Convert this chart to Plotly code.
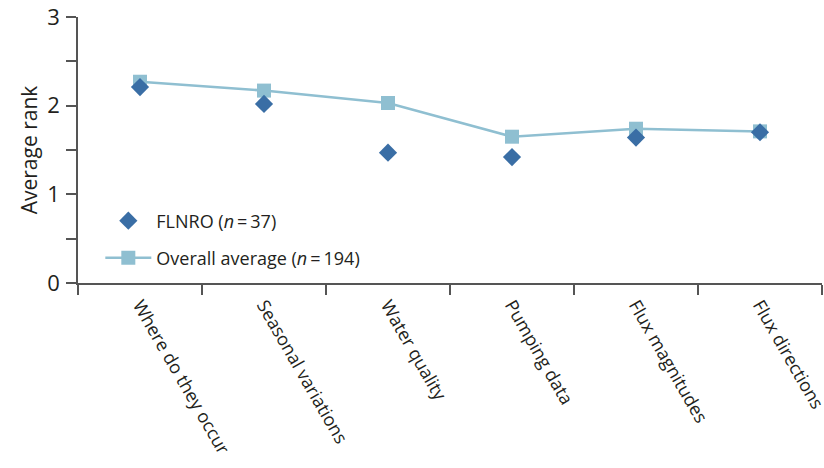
import plotly.graph_objects as go

categories = ["Where do they occur", "Seasonal variations", "Water quality",
              "Pumping data", "Flux magnitudes", "Flux directions"]
flnro = [2.21, 2.02, 1.47, 1.42, 1.64, 1.70]
overall = [2.27, 2.17, 2.03, 1.65, 1.74, 1.71]
y_ticks = [0, 1, 2, 3]

txt = "#231f20"
fig = go.Figure()
fig.add_trace(go.Scatter(
    x=categories, y=overall, mode="lines+markers",
    name="Overall average (<i>n</i>\u2009=\u2009194)",
    line=dict(color="#8fbfd1", width=2.5),
    marker=dict(symbol="square", size=14, color="#8fbfd1"),
    legend="legend2",
))
fig.add_trace(go.Scatter(
    x=categories, y=flnro, mode="markers",
    name="FLNRO (<i>n</i>\u2009=\u200937)",
    marker=dict(symbol="diamond", size=14, color="#3a6ea5"),
    legend="legend",
))

leg_common = dict(xanchor="left", yanchor="middle", bgcolor="rgba(0,0,0,0)",
                  font=dict(size=18, color=txt), itemwidth=46)
fig.update_layout(
    width=824, height=468,
    margin=dict(l=78, r=2, t=17, b=185, autoexpand=False),
    plot_bgcolor="white", paper_bgcolor="white",
    font=dict(family="Open Sans", size=18, color=txt),
    showlegend=True,
    legend=dict(x=0.03, y=(283 - 221) / 266, **leg_common),
    legend2=dict(x=0.03, y=(283 - 258) / 266, **leg_common),
)
fig.update_xaxes(
    type="category", range=[-0.5, 5.5], automargin=False,
    showline=True, linecolor="#555", linewidth=1.5,
    ticks="outside", ticklen=10, tickcolor="#555", tickwidth=1.5,
    tickson="boundaries", tickangle=60, ticklabelstandoff=3,
    tickfont=dict(size=18, color=txt),
    showgrid=False, zeroline=False,
)
fig.update_yaxes(
    range=[0, 3], tickvals=y_ticks, automargin=False,
    showline=True, linecolor="#555", linewidth=1.5,
    ticks="outside", ticklen=10, tickcolor="#555", tickwidth=1.5,
    minor=dict(ticks="outside", dtick=0.5, ticklen=10, tickcolor="#555", tickwidth=1.5),
    tickfont=dict(size=22, color=txt), ticklabelstandoff=2,
    title=dict(text="Average rank", font=dict(size=21, color=txt), standoff=4),
    showgrid=False, zeroline=False,
)

fig.write_html("out.html", config={"displayModeBar": False},
               post_script="document.body.style.margin='0';")
